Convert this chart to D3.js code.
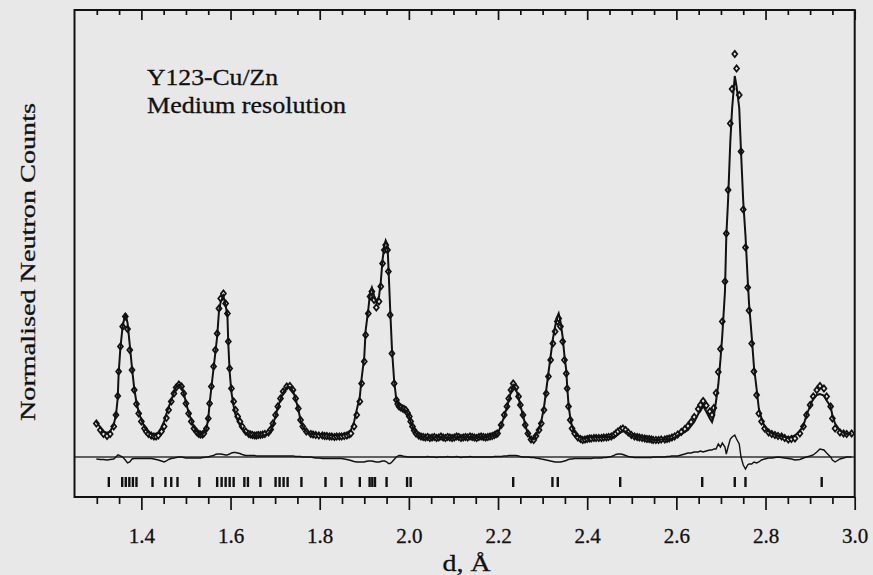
<!DOCTYPE html>
<html>
<head>
<meta charset="utf-8">
<script src="https://cdn.jsdelivr.net/npm/d3@7"></script>
<style>
  html, body { margin: 0; padding: 0; background: #e8e8e8; }
  svg { display: block; font-family: "Liberation Serif", "Times New Roman", serif; }
</style>
</head>
<body>
<svg id="chart"></svg>
<script>
// d-spacing of each observed point (Angstrom)
var dObs = [
  1.299, 1.308, 1.315, 1.323, 1.330, 1.338, 1.343, 1.347, 1.349, 1.353, 1.358, 1.364, 1.369, 1.374, 1.379,
  1.384, 1.389, 1.394, 1.400, 1.407, 1.411, 1.416, 1.422, 1.428, 1.433, 1.438, 1.445, 1.451, 1.456, 1.461,
  1.467, 1.473, 1.478, 1.484, 1.490, 1.495, 1.500, 1.506, 1.512, 1.518, 1.525, 1.529, 1.533, 1.537, 1.540,
  1.546, 1.550, 1.553, 1.557, 1.562, 1.566, 1.570, 1.574, 1.578, 1.584, 1.589, 1.593, 1.595, 1.598, 1.602,
  1.607, 1.611, 1.616, 1.621, 1.626, 1.634, 1.641, 1.645, 1.649, 1.654, 1.658, 1.662, 1.667, 1.672, 1.677,
  1.685, 1.690, 1.695, 1.701, 1.706, 1.712, 1.718, 1.726, 1.733, 1.740, 1.746, 1.752, 1.757, 1.762, 1.770,
  1.780, 1.785, 1.791, 1.798, 1.806, 1.811, 1.816, 1.822, 1.827, 1.833, 1.838, 1.844, 1.849, 1.855, 1.861,
  1.866, 1.870, 1.877, 1.883, 1.890, 1.894, 1.900, 1.903, 1.909, 1.913, 1.917, 1.922, 1.927, 1.933, 1.937,
  1.941, 1.945, 1.948, 1.952, 1.954, 1.958, 1.962, 1.967, 1.972, 1.975, 1.978, 1.982, 1.986, 1.989, 1.993,
  1.997, 2.001, 2.004, 2.008, 2.012, 2.016, 2.022, 2.027, 2.032, 2.037, 2.042, 2.047, 2.052, 2.057, 2.062,
  2.067, 2.072, 2.077, 2.082, 2.087, 2.092, 2.097, 2.102, 2.107, 2.112, 2.117, 2.122, 2.127, 2.132, 2.137,
  2.142, 2.147, 2.152, 2.157, 2.162, 2.167, 2.172, 2.177, 2.182, 2.187, 2.192, 2.196, 2.199, 2.207, 2.214,
  2.220, 2.224, 2.229, 2.234, 2.240, 2.246, 2.250, 2.256, 2.261, 2.267, 2.274, 2.280, 2.285, 2.292, 2.297,
  2.303, 2.308, 2.313, 2.318, 2.323, 2.328, 2.333, 2.336, 2.340, 2.345, 2.349, 2.353, 2.355, 2.358, 2.362,
  2.366, 2.372, 2.379, 2.385, 2.390, 2.395, 2.400, 2.405, 2.409, 2.415, 2.420, 2.426, 2.432, 2.437, 2.443,
  2.448, 2.454, 2.460, 2.464, 2.469, 2.475, 2.480, 2.486, 2.492, 2.499, 2.506, 2.512, 2.517, 2.523, 2.529,
  2.534, 2.539, 2.544, 2.548, 2.554, 2.560, 2.566, 2.574, 2.579, 2.584, 2.590, 2.596, 2.603, 2.611, 2.619,
  2.626, 2.633, 2.640, 2.649, 2.654, 2.660, 2.667, 2.675, 2.680, 2.684, 2.689, 2.694, 2.699, 2.703, 2.709,
  2.712, 2.716, 2.721, 2.725, 2.731, 2.735, 2.741, 2.745, 2.750, 2.755, 2.760, 2.763, 2.769, 2.774, 2.780,
  2.785, 2.791, 2.798, 2.807, 2.814, 2.821, 2.828, 2.836, 2.843, 2.851, 2.858, 2.866, 2.877, 2.885, 2.892,
  2.900, 2.907, 2.915, 2.922, 2.931, 2.937, 2.946, 2.950, 2.956, 2.967, 2.975, 2.982, 2.993
];

// observed normalised counts (arbitrary units)
var obs = [
  147, 134, 126, 122, 126, 141, 164, 202, 251, 301, 341, 361, 336, 294, 254,
  214, 186, 167, 151, 137, 131, 126, 123, 121, 121, 123, 131, 141, 158, 174,
  191, 207, 219, 225, 221, 207, 187, 167, 151, 137, 129, 126, 125, 125, 127,
  137, 157, 187, 221, 261, 294, 327, 377, 397, 407, 387, 367, 311, 257, 217,
  191, 174, 161, 151, 141, 131, 126, 125, 124, 123, 123, 124, 124, 125, 126,
  129, 135, 147, 164, 181, 197, 211, 221, 222, 214, 197, 177, 154, 141, 131,
  126, 125, 124, 123, 123, 122, 122, 121, 121, 120, 121, 121, 121, 122, 123,
  125, 127, 141, 164, 191, 227, 271, 324, 367, 401, 411, 394, 379, 391, 421,
  467, 494, 504, 494, 451, 364, 287, 227, 194, 186, 181, 179, 177, 176, 174,
  168, 161, 151, 141, 133, 127, 123, 121, 120, 119, 120, 118, 119, 120, 118,
  119, 121, 119, 118, 120, 119, 118, 119, 121, 120, 118, 119, 120, 119, 121,
  120, 119, 118, 120, 121, 120, 119, 120, 121, 122, 124, 126, 127, 144, 164,
  181, 197, 214, 227, 219, 201, 184, 164, 144, 127, 115, 114, 122, 134, 147,
  174, 207, 241, 274, 307, 331, 351, 357, 341, 311, 274, 247, 217, 181, 154,
  137, 127, 119, 116, 114, 115, 116, 117, 117, 118, 118, 118, 118, 119, 119,
  120, 121, 124, 127, 131, 135, 137, 134, 129, 124, 121, 120, 119, 118, 117,
  116, 116, 115, 114, 114, 114, 115, 115, 116, 117, 119, 121, 125, 130, 136,
  142, 150, 160, 176, 184, 192, 183, 171, 164, 178, 208, 250, 296, 351, 431,
  527, 614, 747, 816, 886, 857, 804, 691, 575, 499, 419, 373, 307, 251, 204,
  167, 151, 137, 129, 126, 124, 122, 121, 118, 115, 116, 117, 127, 141, 164,
  184, 201, 214, 222, 217, 201, 181, 157, 137, 129, 127, 126, 127
];

// observed minus calculated, same points
var diff = [
  -4, -5, -5, -6, -5, -4, 0, 4, 4, 2, 0, -6, -12, -10, -4,
  -3, -3, -3, -3, -3, -3, -3, -3, -4, -5, -6, -8, -10, -8, -5,
  -3, -2, -1, 0, 0, -1, -2, -2, -2, -2, -2, -2, -2, -1, -1,
  0, 0, 1, 2, 3, 5, 6, 6, 6, 5, 4, 4, 5, 6, 8,
  9, 9, 8, 7, 5, 3, 3, 3, 3, 3, 2, 2, 2, 2, 2,
  2, 2, 2, 2, 2, 2, 2, 2, 2, 2, 1, 1, 1, 0, 0,
  0, -1, -2, -2, -3, -3, -3, -3, -3, -3, -3, -3, -3, -4, -5,
  -6, -7, -9, -10, -10, -10, -10, -9, -8, -8, -8, -9, -10, -10, -9,
  -8, -8, -9, -11, -13, -13, -10, -5, 0, 2, 3, 3, 2, 1, 1,
  0, 0, 0, 0, 0, 0, 0, 0, 0, 0, 1, 0, 0, 0, -1,
  0, 0, 0, 0, 1, 0, 0, 0, 1, 0, -1, 0, 0, 0, 1,
  0, 0, 0, 0, 0, 0, 0, 0, 0, 0, 1, 1, 1, 1, 2,
  2, 3, 3, 3, 3, 2, 1, 0, 0, 0, -1, -1, -2, -3, -4,
  -5, -6, -7, -8, -9, -10, -10, -10, -10, -9, -8, -7, -6, -5, -4,
  -4, -3, -3, -3, -3, -3, -3, -3, -3, -2, -2, -2, -2, -1, -1,
  0, 1, 3, 5, 6, 6, 5, 3, 1, 0, -1, -1, -1, -1, -1,
  -1, -1, -1, 0, 0, 0, 0, 0, 1, 1, 2, 2, 2, 4, 6,
  8, 8, 10, 10, 12, 10, 12, 14, 14, 16, 16, 26, 20, 28, 20,
  6, 20, 36, 40, 44, 36, 26, 0, -16, -24, -16, -14, -14, -10, -12,
  -10, -6, -4, -2, -2, -1, 0, -1, -2, -3, -4, -6, -5, -2, 0,
  2, 4, 10, 16, 14, 8, 0, -6, -10, -4, -2, 0, 0
];

// reflection positions (Angstrom)
var reflections = [
  1.327, 1.357, 1.365, 1.373, 1.381, 1.389, 1.425, 1.454, 1.467, 1.481, 1.530,
  1.570, 1.580, 1.589, 1.598, 1.607, 1.631, 1.639, 1.667, 1.701, 1.710, 1.719,
  1.728, 1.759, 1.813, 1.849, 1.890, 1.912, 1.918, 1.924, 1.950, 1.996, 2.004,
  2.234, 2.322, 2.334, 2.474, 2.658, 2.731, 2.755, 2.926
];

var majorTicks = [1.4, 1.6, 1.8, 2.0, 2.2, 2.4, 2.6, 2.8, 3.0];
var minorTicks = [
  1.30, 1.35, 1.45, 1.50, 1.55, 1.65, 1.70, 1.75, 1.85, 1.90, 1.95, 2.05, 2.10, 2.15,
  2.25, 2.30, 2.35, 2.45, 2.50, 2.55, 2.65, 2.70, 2.75, 2.85, 2.90, 2.95
];
var titleLines = ['Y123-Cu/Zn', 'Medium resolution'];

document.addEventListener('DOMContentLoaded', function () {
    var width = 873;
    var height = 575;
    var bg = '#e8e8e8';
    var ink = '#111';

    var svg = d3.select('#chart')
        .attr('width', width)
        .attr('height', height);

    svg.append('rect')
        .attr('width', width)
        .attr('height', height)
        .style('fill', bg);

    var left = 74.5, right = 854.7, top = 10, bottom = 497;

    var x = d3.scaleLinear().domain([1.25, 3.0]).range([left, right]);
    var y = d3.scaleLinear().domain([0, 974]).range([bottom, top]);

    var diffZero = 80;      // where obs - calc is drawn
    var refTop = 40, refBottom = 20;

    var points = dObs.map(function (d, i) {
        return { d: d, obs: obs[i], calc: obs[i] - diff[i], diff: diff[i] };
    });

    // zero line of the difference curve
    svg.append('line')
        .attr('x1', left).attr('x2', right)
        .attr('y1', y(diffZero)).attr('y2', y(diffZero))
        .style('stroke', '#333')
        .style('stroke-width', 1.6);

    // difference curve
    svg.append('path')
        .datum(points)
        .attr('d', d3.line().x(p => x(p.d)).y(p => y(diffZero + p.diff)))
        .style('fill', 'none')
        .style('stroke', ink)
        .style('stroke-width', 1.4);

    // reflection markers
    svg.selectAll('.refl')
        .data(reflections)
        .enter().append('line')
        .attr('class', 'refl')
        .attr('x1', d => x(d)).attr('x2', d => x(d))
        .attr('y1', y(refTop)).attr('y2', y(refBottom))
        .style('stroke', ink)
        .style('stroke-width', 2.4);

    // observed points as open diamonds
    var diamond = 'M0,-3.1L2.5,0L0,3.1L-2.5,0Z';
    svg.selectAll('.obs')
        .data(points)
        .enter().append('path')
        .attr('class', 'obs')
        .attr('d', diamond)
        .attr('transform', p => 'translate(' + x(p.d) + ',' + y(p.obs) + ')')
        .style('fill', bg)
        .style('stroke', ink)
        .style('stroke-width', 1.7);

    // calculated profile
    svg.append('path')
        .datum(points)
        .attr('d', d3.line().x(p => x(p.d)).y(p => y(p.calc)))
        .style('fill', 'none')
        .style('stroke', ink)
        .style('stroke-width', 2);

    // frame
    svg.append('rect')
        .attr('x', left).attr('y', top)
        .attr('width', right - left).attr('height', bottom - top)
        .style('fill', 'none')
        .style('stroke', ink)
        .style('stroke-width', 2);

    function tickAxis(values, size, yPos, labels) {
        var axis = d3.axisBottom(x).tickValues(values).tickSize(size);
        if (labels) {
            axis.tickPadding(18).tickFormat(d3.format('.1f'));
        } else {
            axis.tickFormat('');
        }
        var g = svg.append('g')
            .attr('transform', 'translate(0,' + yPos + ')')
            .call(axis);
        g.select('.domain').remove();
        g.selectAll('line').style('stroke', ink).style('stroke-width', 1.7);
        g.selectAll('text')
            .style('font-family', '"Liberation Serif", serif')
            .style('font-size', '21px')
            .style('fill', ink)
            .style('stroke', ink)
            .style('stroke-width', 0.3);
        return g;
    }

    // bottom axis, ticks hang below the frame
    tickAxis(minorTicks, 7, bottom, false);
    tickAxis(majorTicks, 13, bottom, true);
    // top axis, ticks point into the plot
    tickAxis(minorTicks, 5, top, false);
    tickAxis(majorTicks, 10, top, false);

    // annotation
    svg.selectAll('.title')
        .data(titleLines)
        .enter().append('text')
        .attr('class', 'title')
        .attr('x', 147)
        .attr('y', (d, i) => i === 0 ? 85 : 112.7)
        .attr('textLength', (d, i) => i === 0 ? 131 : 199)
        .attr('lengthAdjust', 'spacingAndGlyphs')
        .style('font-size', '23px')
        .style('fill', ink)
        .style('stroke', ink)
        .style('stroke-width', 0.3)
        .text(d => d);

    // axis titles
    svg.append('text')
        .attr('x', (left + right) / 2 + 2)
        .attr('y', 571)
        .attr('text-anchor', 'middle')
        .attr('textLength', 48)
        .attr('lengthAdjust', 'spacingAndGlyphs')
        .style('font-size', '23px')
        .style('fill', ink)
        .style('stroke', ink)
        .style('stroke-width', 0.3)
        .text('d, Å');

    svg.append('text')
        .attr('transform', 'translate(35,262) rotate(-90)')
        .attr('text-anchor', 'middle')
        .attr('textLength', 318)
        .attr('lengthAdjust', 'spacingAndGlyphs')
        .style('font-size', '22px')
        .style('fill', ink)
        .style('stroke', ink)
        .style('stroke-width', 0.3)
        .text('Normalised Neutron Counts');
});
</script>
</body>
</html>
